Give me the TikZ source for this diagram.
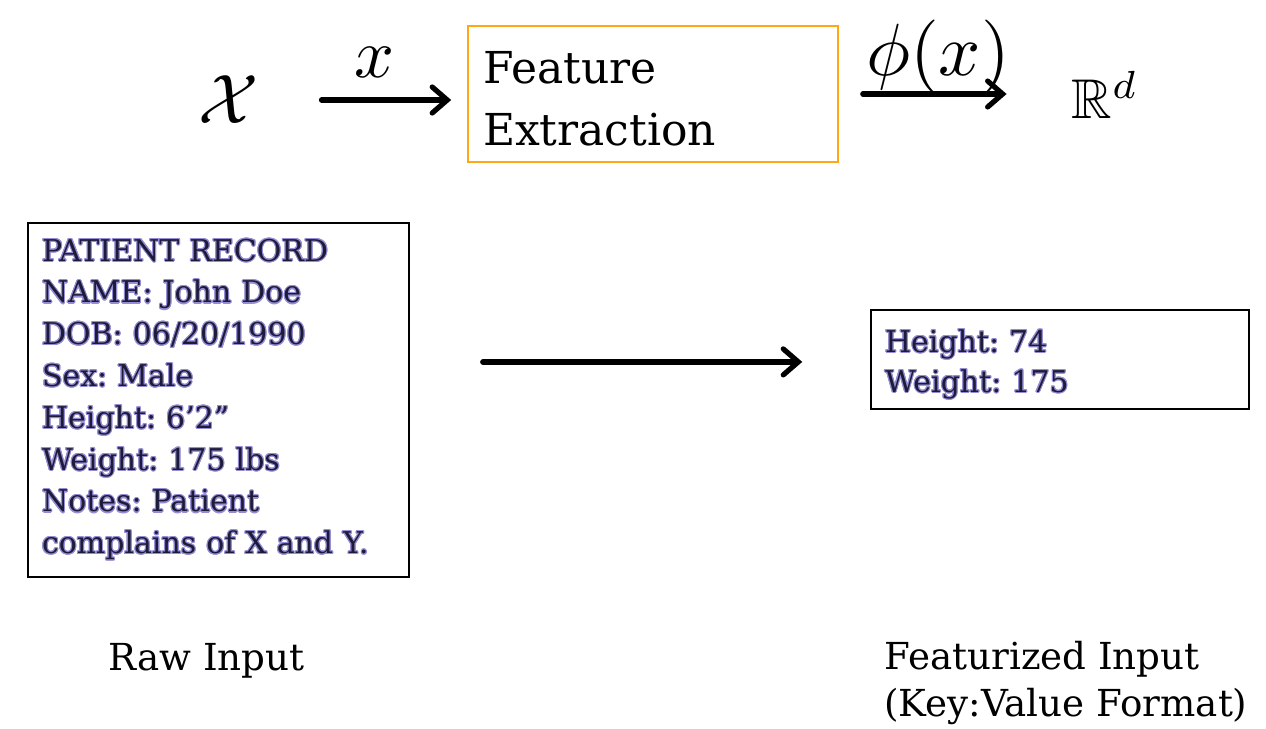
\documentclass[tikz,border=0pt]{standalone}
\usepackage{fontspec}
\setmainfont{DejaVu Serif}
\usepackage{amssymb}
\usepackage{contour}
\usetikzlibrary{arrows.meta,positioning}
\contourlength{0.55pt}
\definecolor{recink}{RGB}{28,28,58}
\definecolor{recglow}{RGB}{150,142,212}
\definecolor{boxorange}{RGB}{255,168,20}
\newcommand{\recline}[1]{\textcolor{recink}{\contour{recglow}{#1}}}
\frenchspacing

\begin{document}
\begin{tikzpicture}[x=0.5pt, y=-0.5pt,
    flow/.style={line width=2.6pt, line cap=round, -{Straight Barb[length=7.5pt,width=13pt,line cap=round]}},
    record/.style={draw, line width=0.75pt, inner xsep=7pt, align=left, font=\fontsize{15}{20.9}\selectfont},
    caption/.style={inner sep=0pt, align=left, font=\fontsize{18.6}{23.5}\selectfont},
    mathnode/.style={inner sep=0pt}]
    \useasboundingbox (0,0) rectangle (1266,729);

    % 1. top row: input space, feature extraction, R^d
    \node[mathnode, scale=3.5] (space) at (229,100) {$\mathcal{X}$};
    \node[draw=boxorange, line width=0.8pt, minimum width=185pt, minimum height=68pt,
          text width=170pt, inner xsep=7.5pt, align=left,
          font=\fontsize{22}{31}\selectfont] (extract) at (653,94) {\rule{0pt}{21pt}Feature\\Extraction};
    \node[mathnode, scale=2.8] (reals) at (1105,95) {$\mathbb{R}^d$};

    % 2. top arrows and their labels
    \draw[flow, shorten <=30.5pt, shorten >=8pt] (space.east) -- (space.east -| extract.west);
    \draw[flow, shorten <=12pt, shorten >=32pt] (extract.east) -- (extract.east -| reals.west);
    \node[mathnode, scale=3.5] (xlab) at (375,62) {$x$};
    \node[mathnode, scale=3.7] (philab) at (938,57) {$\phi(x)$};

    % 3. raw record and featurized record
    \node[record, minimum width=190.5pt, minimum height=177pt, text width=176.5pt] (record) at (218.5,400) {%
        \recline{PATIENT RECORD}\\
        \recline{NAME: John Doe}\\
        \recline{DOB: 06/20/1990}\\
        \recline{Sex: Male}\\
        \recline{Height: 6’2”}\\
        \recline{Weight: 175 lbs}\\
        \recline{Notes: Patient}\\
        \recline{complains of X and Y.}};
    \node[record, minimum width=189pt, minimum height=49.5pt, text width=175pt,
          font=\fontsize{15}{20}\selectfont] (feats) at (1060,359.5) {%
        \rule{0pt}{16.5pt}\recline{Height: 74}\\
        \recline{Weight: 175}};
    \draw[flow, shorten <=36.5pt, shorten >=34pt] ([yshift=-1.2pt]feats.west -| record.east) -- ([yshift=-1.2pt]feats.west);

    % 4. captions
    \node[caption, anchor=base west] (rawcap) at (108,670) {Raw Input};
    \node[caption, anchor=north west] (featcap) at (884,641) {Featurized Input\\(Key:Value Format)};
\end{tikzpicture}
\end{document}
